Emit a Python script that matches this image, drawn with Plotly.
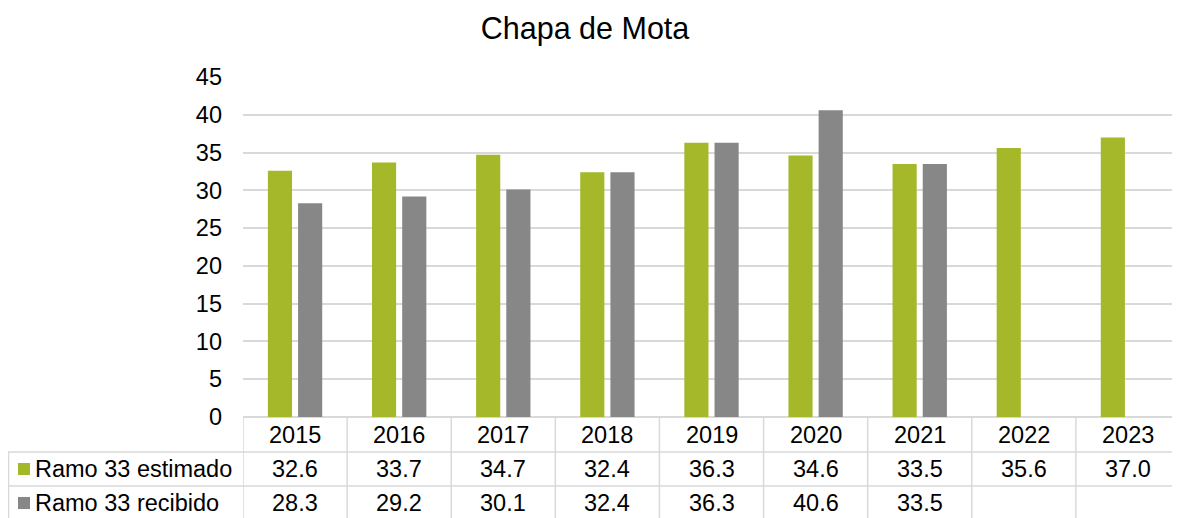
import plotly.graph_objects as go

years = ["2015", "2016", "2017", "2018", "2019", "2020", "2021", "2022", "2023"]
estimado = [32.6, 33.7, 34.7, 32.4, 36.3, 34.6, 33.5, 35.6, 37.0]
recibido = [28.3, 29.2, 30.1, 32.4, 36.3, 40.6, 33.5, None, None]
series_names = ["Ramo 33 estimado", "Ramo 33 recibido"]
colors = ["#A5B82A", "#878787"]

# the page body adds an 8px offset; work in screen pixels and convert
OFF = 8
W, H = 1180 - OFF, 518 - OFF
L, R, T, B = 243 - OFF, 0, 77 - OFF, 518 - 417
plot_w = W - L - R
plot_h = H - T - B

def px_x(px):
    return (px - OFF - L) / plot_w

def px_y(py):
    return (417 - py) / plot_h

FONT = "Liberation Sans, Arial, sans-serif"
GRID = "#D9D9D9"
FS = 23.5

fig = go.Figure()
for name, vals, col in zip(series_names, [estimado, recibido], colors):
    fig.add_trace(go.Bar(x=list(range(len(years))), y=vals, name=name,
                         marker=dict(color=col, line=dict(width=0)),
                         showlegend=False))

shapes = []
annotations = []
# table vertical lines
for i in range(len(years) + 1):
    shapes.append(dict(type="line", xref="x", yref="paper", x0=i - 0.5, x1=i - 0.5,
                       y0=0, y1=px_y(519), line=dict(color=GRID, width=1.5)))
# left border of label column
shapes.append(dict(type="line", xref="paper", yref="paper", x0=px_x(8.5), x1=px_x(8.5),
                   y0=px_y(452), y1=px_y(519), line=dict(color=GRID, width=1.5)))
# horizontal lines
for py in [452, 486]:
    shapes.append(dict(type="line", xref="paper", yref="paper", x0=px_x(8), x1=1,
                       y0=px_y(py), y1=px_y(py), line=dict(color=GRID, width=1.5)))

# year row
for i, yr in enumerate(years):
    annotations.append(dict(x=i, y=px_y(435), xref="x", yref="paper", text=yr,
                            showarrow=False, font=dict(family=FONT, size=FS, color="#000000"),
                            xanchor="center", yanchor="middle"))
row_centers = [469, 503]
for r, (name, vals, col) in enumerate(zip(series_names, [estimado, recibido], colors)):
    yc = row_centers[r]
    shapes.append(dict(type="rect", xref="paper", yref="paper",
                       x0=px_x(18), x1=px_x(30), y0=px_y(yc - 6), y1=px_y(yc + 6),
                       fillcolor=col, line=dict(width=0)))
    annotations.append(dict(x=px_x(33), y=px_y(yc), xref="paper", yref="paper", text=name,
                            showarrow=False, font=dict(family=FONT, size=FS, color="#000000"),
                            xanchor="left", yanchor="middle"))
    for i, v in enumerate(vals):
        if v is None:
            continue
        annotations.append(dict(x=i, y=px_y(yc), xref="x", yref="paper", text=f"{v:.1f}",
                                showarrow=False, font=dict(family=FONT, size=FS, color="#000000"),
                                xanchor="center", yanchor="middle"))

fig.update_layout(
    width=W, height=H,
    margin=dict(l=L, r=R, t=T, b=B, pad=0),
    paper_bgcolor="white", plot_bgcolor="white",
    barmode="group", bargap=0.42, bargroupgap=0.2,
    title=dict(text="Chapa de Mota", x=(585 - OFF) / W, xref="container", xanchor="center",
               y=1 - (28 - OFF) / H, yref="container", yanchor="middle",
               font=dict(family=FONT, size=30.5, color="#000000")),
    xaxis=dict(range=[-0.5, len(years) - 0.5], showticklabels=False, showgrid=False,
               zeroline=False, showline=False, ticks=""),
    yaxis=dict(range=[0, 45], dtick=5, tick0=0, showgrid=True, gridcolor=GRID, gridwidth=1.5,
               zeroline=True, zerolinecolor=GRID, zerolinewidth=1.5, showline=False,
               ticks="", ticklabelstandoff=20,
               tickfont=dict(family=FONT, size=FS, color="#000000")),
    shapes=shapes, annotations=annotations,
    font=dict(family=FONT),
)

fig.write_html("out.html")
